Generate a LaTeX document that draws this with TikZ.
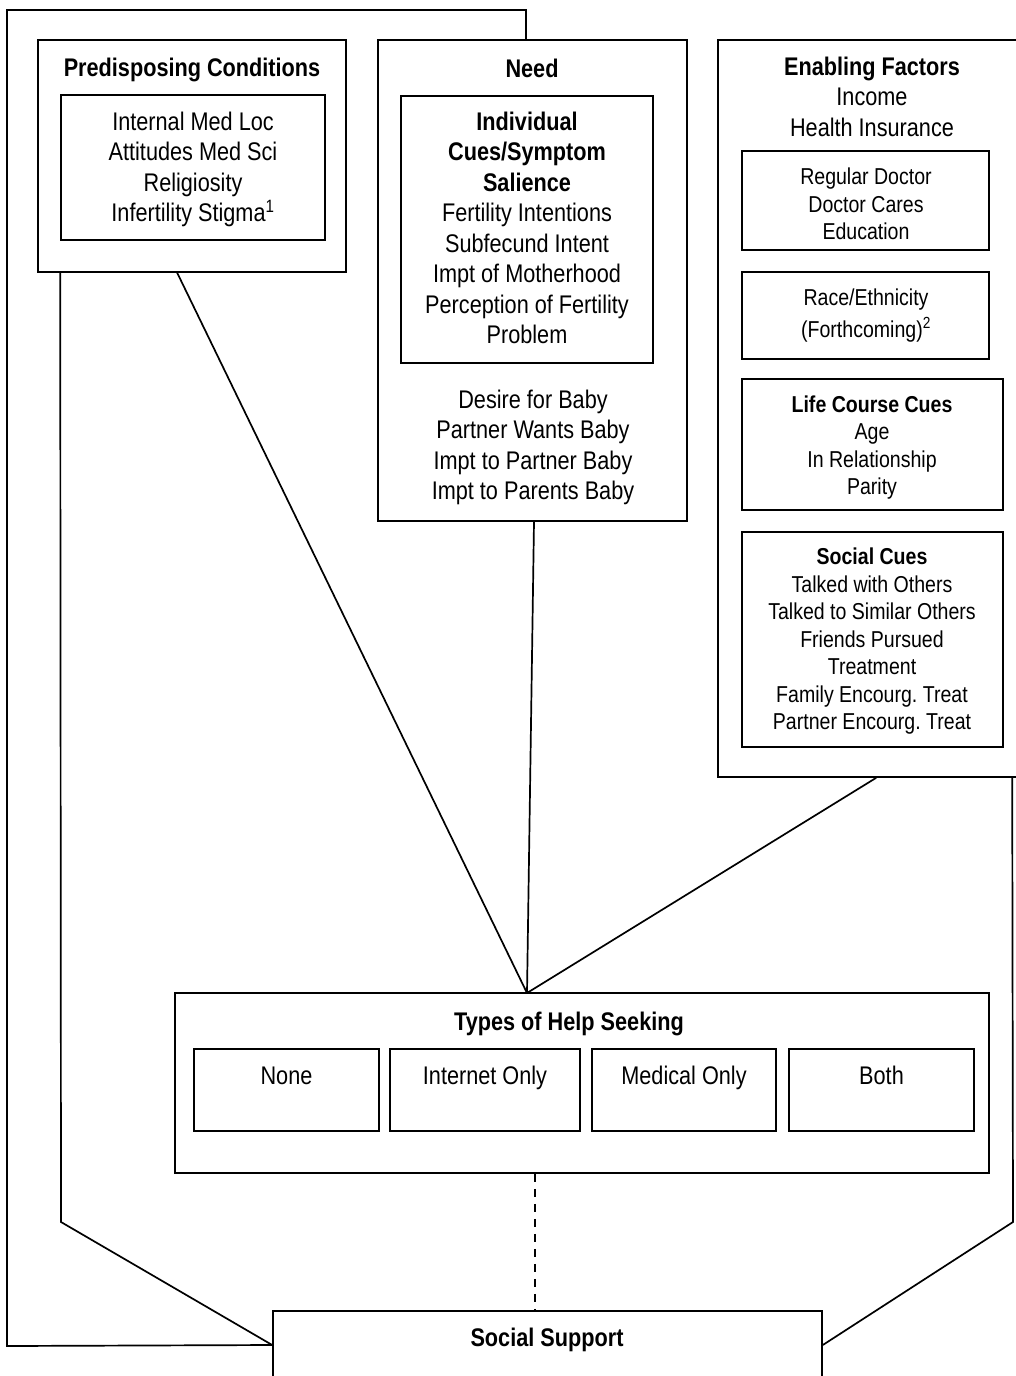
\documentclass[tikz,border=0pt]{standalone}
\usepackage{fontspec}
\setmainfont{Liberation Sans}[FakeStretch=0.85]
\usetikzlibrary{positioning}
\frenchspacing
\newcommand{\bigtxt}{\fontsize{25.5}{30.5}\selectfont}
\newcommand{\smalltxt}{\fontsize{23}{27.5}\selectfont}

\begin{document}
\begin{tikzpicture}[x=1pt,y=-1pt,
  box/.style={draw,line width=1.6pt,inner sep=0pt},
  txt/.style={align=center,inner sep=0pt,font=\bigtxt},
  stxt/.style={align=center,inner sep=0pt,font=\smalltxt},
  link/.style={line width=1.7pt}]
  \path[use as bounding box,clip] (0,0) rectangle (1016,1376);

  \node[box,minimum width=308pt,minimum height=232pt] (pred) at (192,156) {};
  \node[box,minimum width=264pt,minimum height=145pt] (predin) at (193,167.5) {};
  \node[txt] (predttl) at (192,70) {\textbf{Predisposing Conditions}};
  \node[txt] (predtxt) at (193,169.5) {Internal Med Loc\\Attitudes Med Sci\\Religiosity\\Infertility Stigma\textsuperscript{1}};

  \node[box,minimum width=309pt,minimum height=481pt] (need) at (532.5,280.5) {};
  \node[box,minimum width=252pt,minimum height=267pt] (needin) at (527,229.5) {};
  \node[txt] (needttl) at (532,68) {\textbf{Need}};
  \node[txt] (needcue) at (527,228) {\textbf{Individual}\\\textbf{Cues/Symptom}\\\textbf{Salience}\\Fertility Intentions\\Subfecund Intent\\Impt of Motherhood\\Perception of Fertility\\Problem};
  \node[txt] (needbaby) at (533,447.5) {Desire for Baby\\Partner Wants Baby\\Impt to Partner Baby\\Impt to Parents Baby};

  \node[box,minimum width=312pt,minimum height=737pt] (enab) at (874,408.5) {};
  \node[txt] (enabttl) at (872,96.5) {\textbf{Enabling Factors}\\Income\\Health Insurance};
  \node[box,minimum width=247pt,minimum height=99pt] (doc) at (865.5,200.5) {};
  \node[stxt] (doctxt) at (866,204) {Regular Doctor\\Doctor Cares\\Education};
  \node[box,minimum width=247pt,minimum height=87pt] (race) at (865.5,315.5) {};
  \node[stxt] (racetxt) at (866,316) {Race/Ethnicity\\[4.5pt](Forthcoming)\textsuperscript{2}};
  \node[box,minimum width=261pt,minimum height=131pt] (life) at (872.5,444.5) {};
  \node[stxt] (lifetxt) at (872,447.5) {\textbf{Life Course Cues}\\Age\\In Relationship\\Parity};
  \node[box,minimum width=261pt,minimum height=215pt] (soccue) at (872.5,639.5) {};
  \node[stxt] (soctxt) at (872,641.5) {\textbf{Social Cues}\\Talked with Others\\Talked to Similar Others\\Friends Pursued\\Treatment\\Family Encourg. Treat\\Partner Encourg. Treat};

  \node[box,minimum width=814pt,minimum height=180pt] (types) at (582,1083) {};
  \node[txt,anchor=base] (typesttl) at (569,1030) {\textbf{Types of Help Seeking}};
  \node[box,minimum width=185pt,minimum height=82pt] (none) at (286.5,1090) {};
  \node[box,minimum width=190pt,minimum height=82pt] (inet) at (485,1090) {};
  \node[box,minimum width=184pt,minimum height=82pt] (med) at (684,1090) {};
  \node[box,minimum width=185pt,minimum height=82pt] (both) at (881.5,1090) {};
  \node[txt,anchor=base] (nonetxt) at (286.5,1084) {None};
  \node[txt,anchor=base] (inettxt) at (485,1084) {Internet Only};
  \node[txt,anchor=base] (medtxt) at (684,1084) {Medical Only};
  \node[txt,anchor=base] (bothtxt) at (881.5,1084) {Both};

  \node[box,minimum width=549pt,minimum height=68pt] (supp) at (547.5,1345) {};
  \node[txt,anchor=base] (supptxt) at (547,1346) {\textbf{Social Support}};

  \coordinate (apex) at (527,993);
  \coordinate (topl) at (7,10);
  \coordinate (botl) at (7,1346);
  \coordinate (kneel) at (61,1222);
  \coordinate (kneer) at (1013,1222);

  \draw[link] ([xshift=140pt]pred.south west) -- (apex);
  \draw[link] ([xshift=1.5pt]need.south) -- (apex);
  \draw[link] ([xshift=159pt]enab.south west) -- (apex);
  \draw[link] ([xshift=-6.5pt]need.north) |- (topl) -- (botl) -- (supp.west);
  \draw[link] ([xshift=23pt]pred.south west) -- (kneel) -- (supp.west);
  \draw[link] ([xshift=295pt]enab.south west) -- (kneer) -- (supp.east);
  \draw[link,dash pattern=on 8pt off 7pt] ([xshift=-47pt]types.south) -- ([xshift=-12.5pt]supp.north);
\end{tikzpicture}
\end{document}
